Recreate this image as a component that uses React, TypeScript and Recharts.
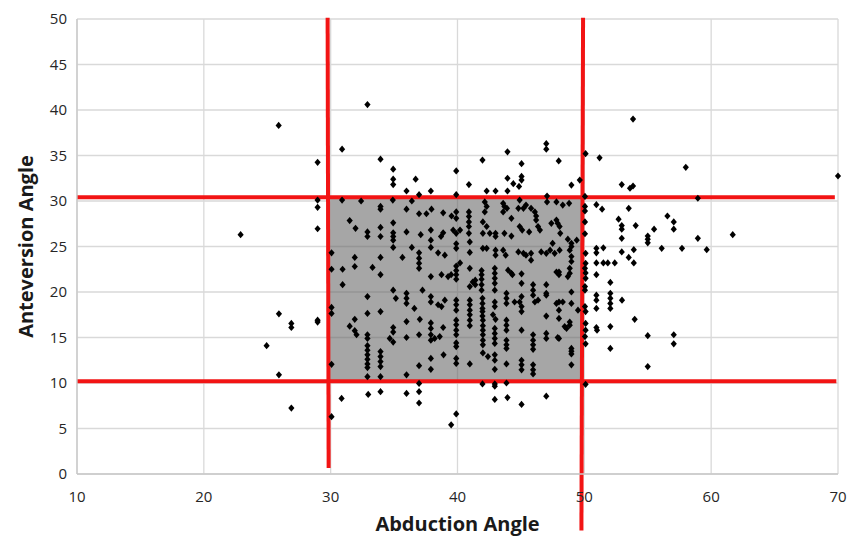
import React from 'react';
import {
  ScatterChart,
  Scatter,
  XAxis,
  YAxis,
  CartesianGrid,
  ReferenceArea,
  ReferenceLine,
} from 'recharts';

// ---- axis ticks ----
const xTicks = [10, 20, 30, 40, 50, 60, 70];
const yTicks = [0, 5, 10, 15, 20, 25, 30, 35, 40, 45, 50];

// ---- target zone (Lewinnek safe zone) ----
const zoneX = [29.8, 49.8];
const zoneY = [10.25, 30.4];

// ---- data: [abduction, anteversion] ----
const outsideLeft: number[][] = [
  [25.9, 38.3], [22.9, 26.3], [28.97, 34.25], [28.97, 30.1], [28.97, 29.3], [28.97, 26.95],
  [25.92, 17.6], [26.9, 16.55], [26.9, 16.1], [28.97, 16.9], [28.97, 16.7], [24.95, 14.1],
  [25.92, 10.9], [26.9, 7.25],
];

const aboveZone: number[][] = [
  [32.9, 40.6], [30.9, 35.7], [33.93, 34.6], [34.93, 33.5], [34.93, 32.4], [34.93, 31.8],
  [36.7, 32.4], [35.98, 31.1], [36.97, 30.7], [37.9, 31.1], [39.9, 33.3], [40.9, 31.8],
  [39.9, 30.7], [47.0, 36.3], [47.0, 35.7], [43.94, 35.4], [41.97, 34.5], [45.05, 34.1],
  [47.98, 34.4], [43.94, 32.5], [44.4, 31.9], [44.85, 31.6], [45.05, 32.7], [45.05, 32.3],
  [42.3, 31.1], [43.0, 31.1], [43.94, 31.1], [48.98, 31.75], [49.64, 32.3], [47.06, 30.55],
];

const belowZone: number[][] = [
  [30.07, 6.3], [30.86, 8.3], [32.96, 8.75], [33.93, 9.05], [35.98, 8.85], [36.97, 9.95],
  [36.97, 9.05], [36.97, 7.8], [39.9, 6.6], [39.5, 5.4], [41.97, 9.9], [42.94, 9.9],
  [42.94, 9.65], [43.86, 10.0], [42.94, 8.2], [43.94, 8.4], [45.05, 7.65], [47.0, 8.55],
  [50.1, 9.85],
];

const outsideRight: number[][] = [
  [50.1, 35.2], [51.2, 34.75], [53.84, 39.0], [58.0, 33.7], [70.0, 32.75], [52.95, 31.8],
  [53.6, 31.4], [53.84, 31.65], [58.95, 30.3], [50.95, 29.6], [51.4, 29.1], [53.5, 29.2],
  [52.7, 28.0], [52.95, 27.3], [52.95, 26.9], [52.95, 25.9], [54.05, 27.3], [55.0, 26.15],
  [55.0, 25.8], [55.0, 25.4], [55.5, 26.9], [56.55, 28.35], [57.05, 27.7], [57.05, 26.9],
  [58.95, 25.9], [61.7, 26.3], [50.95, 24.8], [50.95, 24.3], [51.5, 24.85], [52.95, 24.4],
  [53.5, 23.8], [53.9, 24.65], [56.1, 24.8], [57.7, 24.8], [59.65, 24.65], [50.95, 23.2],
  [51.5, 23.2], [51.85, 23.2], [52.4, 23.2], [53.9, 23.2], [50.95, 21.9], [52.05, 21.05],
  [50.95, 19.65], [50.95, 19.1], [50.95, 18.2], [52.05, 19.85], [52.05, 19.3], [52.05, 18.75],
  [52.05, 18.2], [52.97, 19.1], [53.97, 17.0], [50.95, 16.1], [52.05, 16.2], [51.0, 15.8],
  [55.0, 15.2], [57.05, 15.3], [57.05, 14.3], [52.05, 13.8], [55.0, 11.8],
];

const onRightEdge: number[][] = [
  [50.05, 30.5], [50.05, 29.4], [50.05, 28.9], [50.05, 27.7], [50.05, 26.4], [50.1, 24.25],
  [50.1, 23.15], [50.05, 22.6], [50.1, 22.1], [50.1, 21.5], [50.05, 20.6], [50.05, 20.2],
  [50.05, 18.4], [50.1, 17.85], [50.1, 16.55], [50.1, 15.8], [50.05, 15.1], [50.1, 14.3],
];

const zoneLeft: number[][] = [
  [30.9, 30.1], [32.4, 30.0], [31.5, 27.85], [31.96, 27.0], [32.9, 26.6], [32.9, 26.1],
  [30.07, 24.3], [31.9, 23.8], [30.07, 22.5], [30.94, 22.5], [31.9, 22.8], [30.94, 20.8],
  [32.9, 19.5], [30.07, 18.3], [30.07, 17.65], [32.9, 17.65], [31.9, 17.0], [31.5, 16.25],
  [31.9, 15.75], [32.04, 15.3], [32.9, 15.3], [32.9, 14.9], [32.9, 14.1], [32.9, 13.6],
  [32.9, 13.1], [32.9, 12.6], [30.07, 12.05], [32.9, 12.1], [32.9, 11.7], [32.9, 10.7],
  [33.93, 23.8], [33.93, 21.9], [33.93, 17.85], [33.93, 13.45], [33.93, 12.9], [33.93, 12.35],
  [33.93, 11.8], [33.93, 10.7], [33.3, 22.7],
];

const zoneUpperMid: number[][] = [
  [34.9, 30.1], [36.4, 30.0], [33.93, 29.4], [33.93, 29.1], [35.98, 29.1], [36.97, 28.6],
  [37.55, 28.6], [37.95, 29.1], [38.87, 28.7], [39.53, 28.35], [39.9, 28.8], [39.9, 28.1],
  [40.9, 28.8], [40.9, 28.3], [40.9, 27.7], [40.9, 27.2], [34.93, 27.6], [33.93, 27.1],
  [33.93, 26.1], [34.93, 26.5], [34.93, 26.1], [35.98, 26.6], [37.1, 26.3], [37.9, 26.8],
  [38.87, 26.5], [38.7, 26.1], [39.66, 26.8], [39.9, 26.45], [40.2, 26.8], [40.9, 26.45],
];

const zoneMid: number[][] = [
  [34.93, 25.7], [37.9, 25.7], [39.9, 25.3], [40.97, 25.5], [34.93, 24.9], [36.4, 24.9],
  [37.9, 24.9], [38.47, 24.3], [39.0, 24.05], [39.9, 24.8], [40.97, 24.35], [36.97, 24.3],
  [36.97, 23.7], [36.97, 23.15], [36.97, 22.6], [35.66, 23.8], [37.9, 21.7], [38.74, 21.9],
  [39.26, 21.7], [39.5, 21.9], [39.9, 22.85], [39.9, 22.35], [39.9, 21.9], [39.9, 21.4],
  [40.2, 23.2], [40.97, 22.6], [41.4, 21.3], [40.97, 20.6], [41.4, 20.8], [41.2, 21.1],
  [34.93, 20.2], [35.14, 19.3], [35.98, 19.85], [35.98, 19.3], [35.98, 18.75], [37.24, 20.2],
  [37.9, 19.5], [37.9, 18.9], [38.47, 18.6], [38.74, 18.4], [39.0, 19.1], [39.9, 19.1],
  [39.9, 18.6], [39.9, 18.0], [40.97, 19.1], [40.97, 18.6], [40.97, 18.0], [40.97, 17.5],
  [36.6, 18.2], [37.03, 17.0], [35.98, 16.75], [37.9, 16.6], [37.9, 16.0], [38.87, 16.1],
  [39.9, 16.9], [39.9, 16.4], [39.9, 15.8], [40.97, 16.9], [40.97, 16.3], [34.93, 16.1],
  [34.93, 15.6], [34.66, 14.9], [34.93, 14.5], [35.98, 15.0], [36.97, 15.3], [37.9, 15.3],
  [37.9, 14.7], [38.2, 14.9], [38.6, 15.1], [39.9, 15.3], [39.9, 14.4], [39.9, 14.0],
  [38.9, 13.1], [37.9, 12.7], [39.9, 12.7], [39.9, 12.15], [40.97, 12.1], [36.97, 11.9],
  [37.9, 11.5], [35.98, 10.9],
];

const zoneUpperRight: number[][] = [
  [42.15, 29.9], [42.3, 29.4], [42.15, 28.8], [42.0, 27.7], [42.3, 27.2], [42.0, 26.45],
  [42.55, 26.45], [43.0, 26.45], [43.0, 26.1], [43.6, 29.75], [43.7, 29.4], [43.9, 29.2],
  [43.6, 28.8], [44.25, 28.1], [43.7, 26.45], [44.25, 26.15], [44.9, 30.1], [44.8, 29.2],
  [45.2, 29.2], [45.4, 29.55], [44.9, 27.2], [45.1, 26.8], [45.8, 29.2], [46.1, 28.8],
  [46.2, 28.35], [46.2, 27.9], [45.65, 26.6], [46.35, 27.2], [46.5, 26.8], [47.06, 29.9],
  [47.9, 27.55], [48.05, 27.2], [48.1, 26.45], [48.3, 29.55], [48.8, 29.75], [47.4, 27.55],
  [47.8, 29.9], [47.8, 27.9], [48.7, 25.8], [48.98, 25.35], [48.98, 25.0],
];

const zoneRight: number[][] = [
  [42.0, 24.8], [42.3, 24.8], [43.0, 24.6], [43.0, 24.05], [43.6, 24.6], [43.8, 24.05],
  [44.8, 24.4], [45.2, 24.25], [45.4, 24.05], [45.8, 24.25], [45.8, 23.5], [46.6, 24.4],
  [47.0, 24.25], [47.3, 24.6], [47.5, 25.35], [47.66, 24.25], [48.05, 24.6], [48.85, 24.6],
  [48.98, 23.9], [48.98, 23.35], [49.4, 25.7],
  [41.9, 22.35], [41.9, 21.9], [41.9, 21.4], [41.9, 20.8], [41.9, 20.2],
  [42.94, 22.6], [42.94, 22.05], [42.94, 21.5], [42.94, 20.95], [42.94, 20.2],
  [43.99, 22.4], [44.25, 22.05], [44.33, 21.9], [45.05, 22.0], [45.05, 20.95],
  [45.96, 20.8], [45.96, 20.2], [45.96, 19.65], [47.0, 20.8], [47.0, 19.65],
  [48.0, 22.2], [48.0, 21.9], [48.85, 22.6], [48.85, 22.05], [47.8, 22.2], [48.7, 21.7],
  [41.97, 19.3], [41.97, 18.75], [41.97, 18.2], [41.97, 17.85], [41.97, 17.35],
  [42.94, 18.9], [42.94, 18.4], [43.86, 19.85], [43.86, 19.3], [43.86, 18.75],
  [44.5, 18.9], [44.9, 18.9], [45.05, 19.5], [45.05, 18.4], [45.05, 17.85],
  [46.1, 18.9], [46.35, 19.1], [47.0, 19.85], [48.0, 18.9], [48.0, 18.0], [48.0, 17.1],
  [47.0, 17.35], [49.5, 18.0], [48.98, 20.0], [48.98, 18.75], [47.8, 18.75], [48.3, 18.9],
  [42.0, 16.9], [42.0, 16.3], [42.0, 15.8], [42.0, 15.3], [42.0, 14.7], [42.0, 14.2],
  [42.0, 13.3], [42.8, 17.5], [43.0, 17.0], [42.94, 16.0], [42.94, 15.45], [42.94, 14.9],
  [42.94, 14.35], [43.86, 16.9], [43.86, 16.35], [43.86, 15.8], [43.86, 14.7], [43.86, 14.2],
  [43.86, 13.8], [45.05, 15.8], [45.96, 15.3], [45.96, 14.7], [45.96, 14.2], [45.96, 13.7],
  [47.0, 15.45], [47.0, 14.9], [48.0, 14.9], [48.6, 16.0], [48.85, 16.35], [48.85, 16.7],
  [48.45, 16.2], [47.9, 15.0], [48.98, 13.8], [48.98, 13.5], [48.98, 13.2], [48.98, 12.0],
  [42.4, 12.9], [42.94, 13.1], [42.94, 12.5], [42.94, 11.5], [43.86, 12.1], [45.05, 12.5],
  [45.05, 12.0], [45.05, 11.45], [45.96, 12.0], [45.96, 11.45], [45.96, 11.0],
];

const allGroups = [
  outsideLeft, aboveZone, belowZone, outsideRight, onRightEdge,
  zoneLeft, zoneUpperMid, zoneMid, zoneUpperRight, zoneRight,
];
const points = allGroups.flat().map(([x, y]) => ({ x, y }));

const RED = '#f21414';
const FONT = '"Open Sans", "Noto Sans", sans-serif';

const Diamond = (props: any) => {
  const { cx, cy } = props;
  if (cx == null || cy == null) return null;
  return (
    <path
      d={`M${cx},${cy - 3.6}L${cx + 3.1},${cy}L${cx},${cy + 3.6}L${cx - 3.1},${cy}Z`}
      fill="#000"
    />
  );
};

const XTitle = (props: any) => {
  const vb = props.viewBox || { x: 77, width: 761, y: 474, height: 63 };
  return (
    <text
      x={vb.x + vb.width / 2}
      y={531}
      textAnchor="middle"
      fontFamily={FONT}
      fontWeight="bold"
      fontSize={20}
      fill="#1a1a1a"
    >
      Abduction Angle
    </text>
  );
};

const YTitle = (props: any) => {
  const vb = props.viewBox || { x: 37, width: 40, y: 19, height: 455 };
  const cy = vb.y + vb.height / 2;
  return (
    <text
      x={33}
      y={cy}
      transform={`rotate(-90, 33, ${cy})`}
      textAnchor="middle"
      fontFamily={FONT}
      fontWeight="bold"
      fontSize={20}
      fill="#1a1a1a"
    >
      Anteversion Angle
    </text>
  );
};

const tickStyle = { fontFamily: FONT, fontSize: 15, fill: '#262626' };

export default function App() {
  return (
    <div
      style={{
        position: 'absolute',
        left: 0,
        top: 0,
        width: 861,
        height: 537,
        background: '#fff',
        overflow: 'hidden',
        fontFamily: FONT,
      }}
    >
      <ScatterChart
        width={861}
        height={537}
        margin={{ top: 19, right: 23, left: 37, bottom: 0 }}
      >
        <CartesianGrid stroke="#d9d9d9" strokeWidth={1.3} />
        <XAxis
          type="number"
          dataKey="x"
          domain={[10, 70]}
          ticks={xTicks}
          interval={0}
          height={63}
          tickLine={false}
          axisLine={{ stroke: '#c8c8c8', strokeWidth: 1.3 }}
          tick={tickStyle}
          tickMargin={11}
          label={<XTitle />}
        />
        <YAxis
          type="number"
          dataKey="y"
          domain={[0, 50]}
          ticks={yTicks}
          interval={0}
          width={40}
          tickLine={false}
          axisLine={{ stroke: '#c8c8c8', strokeWidth: 1.3 }}
          tick={tickStyle}
          tickMargin={4}
          label={<YTitle />}
        />
        <ReferenceArea
          x1={zoneX[0]}
          x2={zoneX[1]}
          y1={zoneY[0]}
          y2={zoneY[1]}
          fill="#a6a6a6"
          fillOpacity={1}
          stroke="none"
          ifOverflow="visible"
        />
        {[15, 20, 25].map((v) => (
          <ReferenceLine
            key={'gy' + v}
            segment={[{ x: zoneX[0], y: v }, { x: zoneX[1], y: v }]}
            stroke="#959595"
            strokeWidth={1.3}
            ifOverflow="visible"
          />
        ))}
        <ReferenceLine
          segment={[{ x: 40, y: zoneY[0] }, { x: 40, y: zoneY[1] }]}
          stroke="#959595"
          strokeWidth={1.3}
          ifOverflow="visible"
        />
        <Scatter
          data={points}
          shape={<Diamond />}
          isAnimationActive={false}
          fill="#000"
        />
        <ReferenceLine
          segment={[{ x: 10, y: 30.4 }, { x: 69.75, y: 30.4 }]}
          stroke={RED}
          strokeWidth={4}
          ifOverflow="visible"
        />
        <ReferenceLine
          segment={[{ x: 10, y: 10.2 }, { x: 69.87, y: 10.2 }]}
          stroke={RED}
          strokeWidth={4}
          ifOverflow="visible"
        />
        <ReferenceLine
          segment={[{ x: 29.76, y: 50.15 }, { x: 29.84, y: 0.65 }]}
          stroke={RED}
          strokeWidth={4}
          ifOverflow="visible"
        />
        <ReferenceLine
          segment={[{ x: 49.9, y: 50.15 }, { x: 49.77, y: -6.2 }]}
          stroke={RED}
          strokeWidth={4}
          ifOverflow="visible"
        />
      </ScatterChart>
    </div>
  );
}
